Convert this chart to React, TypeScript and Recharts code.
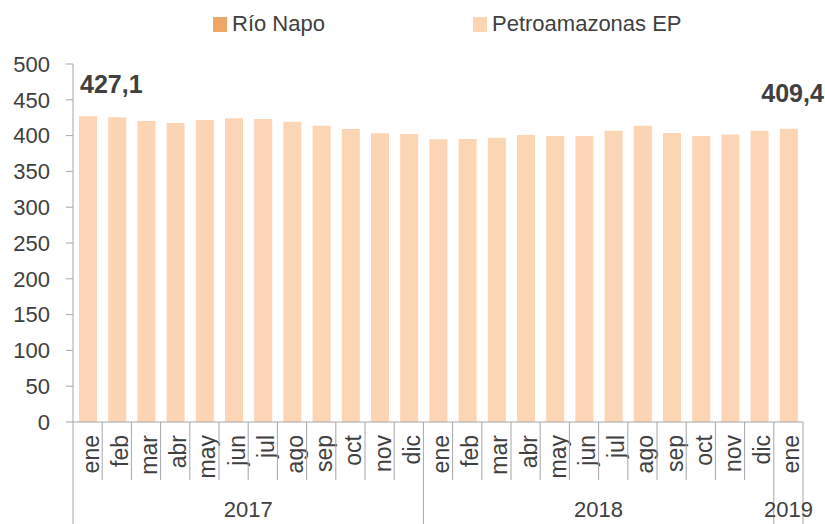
import { BarChart, Bar, XAxis, YAxis, LabelList } from 'recharts';

const months = [
  'ene', 'feb', 'mar', 'abr', 'may', 'jun', 'jul', 'ago', 'sep', 'oct', 'nov', 'dic',
  'ene', 'feb', 'mar', 'abr', 'may', 'jun', 'jul', 'ago', 'sep', 'oct', 'nov', 'dic',
  'ene',
];
const years = [
  '2017', '2017', '2017', '2017', '2017', '2017', '2017', '2017', '2017', '2017', '2017', '2017',
  '2018', '2018', '2018', '2018', '2018', '2018', '2018', '2018', '2018', '2018', '2018', '2018',
  '2019',
];
const petroamazonas = [
  427.1, 425.6, 420.4, 417.6, 421.8, 424.1, 423.2, 419.5, 413.9, 409.2, 403.2, 402.2,
  394.8, 395.3, 397.1, 400.8, 399.4, 399.4, 406.9, 413.9, 403.6, 399.4, 401.7, 406.9,
  409.4,
];
const rioNapo = [
  0, 0, 0, 0, 0, 0, 0, 0, 0, 0, 0, 0,
  0, 0, 0, 0, 0, 0, 0, 0, 0, 0, 0, 0,
  0,
];
const yTicks = [0, 50, 100, 150, 200, 250, 300, 350, 400, 450, 500];

const data = months.map((m, i) => ({
  key: `${years[i]}-${i}`,
  month: m,
  year: years[i],
  rioNapo: rioNapo[i],
  petroamazonas: petroamazonas[i],
}));

const FONT = "'Liberation Sans Narrow', 'Arial Narrow', 'Liberation Sans', Arial, sans-serif";
const TEXT = '#404040';
const GRID = '#a6a6a6';
const NAPO = '#f0a766';
const PETRO = '#fcd5b5';

const W = 825;
const H = 524;
const LEFT = 73;
const RIGHT = 22;
const TOP = 64;
const AXIS_H = 102;
const band = (W - LEFT - RIGHT) / months.length;

const MonthTick = (props: any) => {
  const { x, y, payload } = props;
  const i = payload.index;
  const half = band / 2;
  const isStart = i === 0 || years[i] !== years[i - 1];
  let yearLabel = null;
  if (isStart) {
    const count = years.filter((yy) => yy === years[i]).length;
    yearLabel = (
      <text x={x - half + (count * band) / 2} y={y + 95} textAnchor="middle"
        fontSize={22} fill={TEXT} fontFamily={FONT}>
        {years[i]}
      </text>
    );
  }
  return (
    <g>
      <line x1={x - half} y1={y} x2={x - half} y2={isStart ? y + AXIS_H : y + 58} stroke={GRID} strokeWidth={1} />
      {i === months.length - 1 && (
        <line x1={x + half} y1={y} x2={x + half} y2={y + AXIS_H} stroke={GRID} strokeWidth={1} />
      )}
      <text transform={`translate(${x + 11},${y + 13}) rotate(-90)`} textAnchor="end"
        fontSize={23} fill={TEXT} fontFamily={FONT}>
        {months[i]}
      </text>
      {yearLabel}
    </g>
  );
};

const EndLabel = (props: any) => {
  const { x, y, width, index, value } = props;
  const txt = String(value).replace('.', ',');
  if (index === 0) {
    return (
      <text x={x + 1} y={y - 23} textAnchor="start" fontSize={25} fontWeight="bold" fill={TEXT} fontFamily={FONT}>
        {txt}
      </text>
    );
  }
  if (index === months.length - 1) {
    return (
      <text x={x + width + 26} y={y - 27} textAnchor="end" fontSize={25} fontWeight="bold" fill={TEXT} fontFamily={FONT}>
        {txt}
      </text>
    );
  }
  return null;
};

const legendItems = [
  { name: 'Río Napo', color: NAPO, left: 213 },
  { name: 'Petroamazonas EP', color: PETRO, left: 473 },
];

export default function App() {
  return (
    <div style={{ position: 'relative', width: W, height: H, background: '#fff' }}>
      <style>{'body{margin:0}'}</style>
      <BarChart width={W} height={H} data={data}
        margin={{ top: TOP, right: RIGHT, bottom: 0, left: 0 }}>
        <YAxis
          width={LEFT}
          domain={[0, 500]}
          ticks={yTicks}
          interval={0}
          tickSize={7}
          tickMargin={16}
          axisLine={{ stroke: GRID }}
          tickLine={{ stroke: GRID }}
          tick={{ fontSize: 22, fill: TEXT, fontFamily: FONT }}
        />
        <XAxis
          dataKey="key"
          height={AXIS_H}
          interval={0}
          tickSize={0}
          tickMargin={0}
          tickLine={false}
          axisLine={{ stroke: GRID }}
          tick={<MonthTick />}
        />
        <Bar dataKey="rioNapo" stackId="a" fill={NAPO} barSize={18} isAnimationActive={false} />
        <Bar dataKey="petroamazonas" stackId="a" fill={PETRO} barSize={18} isAnimationActive={false}>
          <LabelList dataKey="petroamazonas" content={<EndLabel />} />
        </Bar>
      </BarChart>
      {legendItems.map((it) => (
        <div key={it.name} style={{
          position: 'absolute', top: 9, left: it.left, display: 'flex', alignItems: 'center',
          fontFamily: FONT, fontSize: 22, color: TEXT, lineHeight: '30px',
        }}>
          <span style={{ display: 'inline-block', width: 14, height: 15, background: it.color, marginRight: 5 }} />
          {it.name}
        </div>
      ))}
    </div>
  );
}
